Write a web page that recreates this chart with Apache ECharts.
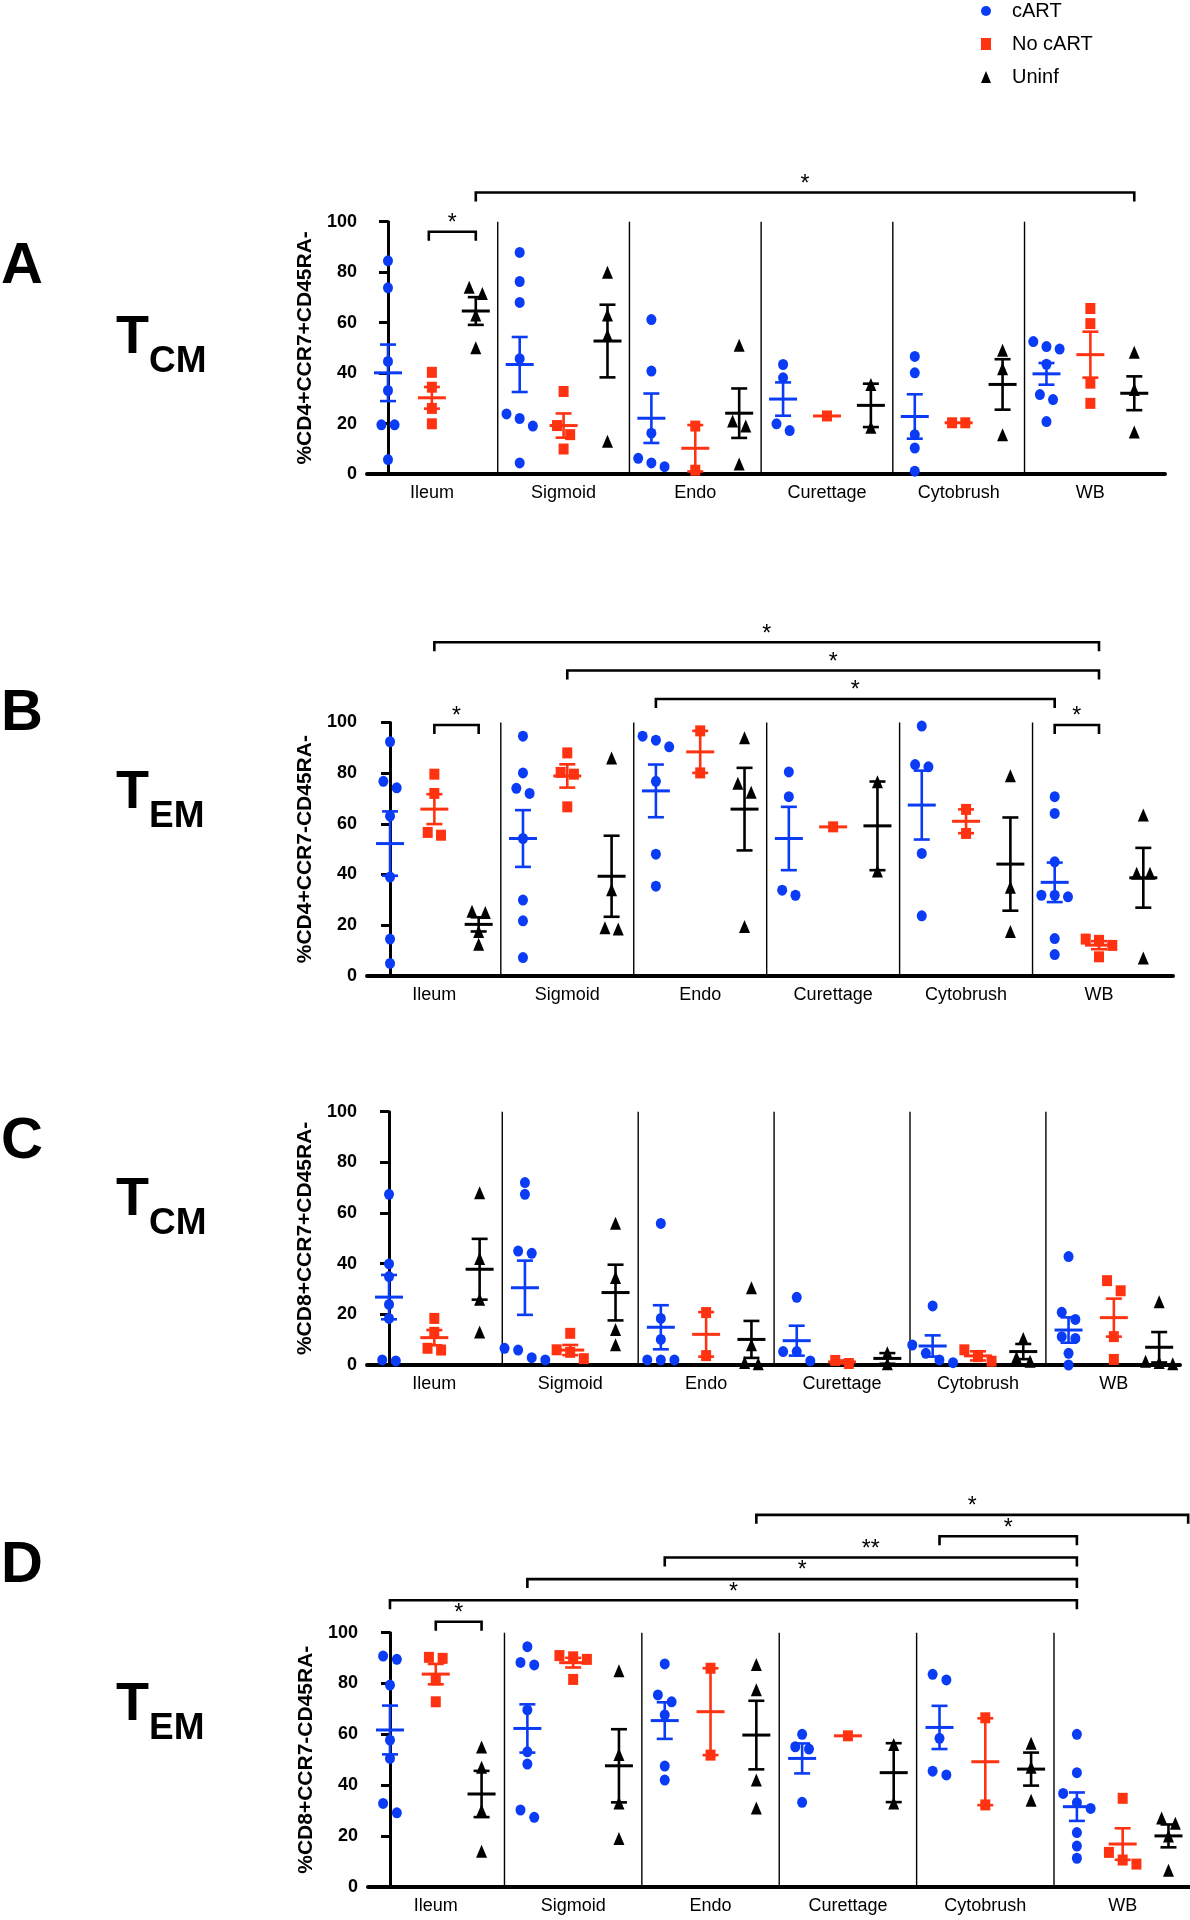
<!DOCTYPE html>
<html><head><meta charset="utf-8">
<script src="https://cdn.jsdelivr.net/npm/echarts@6/dist/echarts.min.js"></script>
<style>html,body{margin:0;padding:0;background:#fff}#chart{width:1190px;height:1920px}</style>
</head><body><div id="chart"></div>
<script>
// ---------- data ----------
const categories = ['Ileum', 'Sigmoid', 'Endo', 'Curettage', 'Cytobrush', 'WB'];
const groupNames = ['cART', 'No cART', 'Uninf'];
const yTickValues = [0, 20, 40, 60, 80, 100];

const A_cART = [[84.5,73.8,44.6,33.1,19.5,19.5,5.7],[87.8,76.3,68.0,45.7,23.8,22.0,19.0,4.4],[61.2,40.8,16.2,6.2,4.4,2.9],[43.4,38.1,19.9,17.2],[46.6,40.1,15.6,10.3,1.1],[52.5,50.5,49.5,43.5,31.5,29.5,20.8]];
const A_cART_mean = [40.1,43.4,22.1,29.7,22.8,39.7];
const A_cART_sem = [11.2,10.9,9.8,6.6,8.8,4.3];
const A_noCART = [[40.3,34.4,26.0,19.9],[32.7,19.2,15.6,9.9],[19.0,1.5],[23.0],[20.3,20.3],[65.6,59.6,36.0,28.0]];
const A_noCART_mean = [30.2,19.2,10.2,23.0,20.3,47.3];
const A_noCART_sem = [4.3,4.8,9.2,0,0,9.1];
const A_uninf = [[74.0,71.5,63.0,50.0],[80.0,63.0,55.0,13.0],[51.0,21.0,19.0,4.0],[35.5,18.5],[49.0,41.7,15.6],[48.3,33.5,16.6]];
const A_uninf_mean = [64.6,52.7,24.1,27.2,35.5,32.0];
const A_uninf_sem = [5.5,14.4,9.8,8.6,10.0,6.7];
const A_brackets = [[0.93,2,96,'*'],[2,17,111.6,'*']];

const B_cART = [[92.4,76.8,74.2,63.0,39.0,14.5,4.9],[94.6,80.1,74.0,72.0,54.2,29.9,21.7,7.2],[94.6,93.0,90.4,76.8,48.0,35.4],[80.5,70.7,33.8,31.8],[98.6,83.4,82.5,48.3,23.7],[70.7,64.1,45.0,31.8,31.8,31.2,14.7,8.4]];
const B_cART_mean = [52.2,54.2,73.0,54.2,67.4,36.9];
const B_cART_sem = [12.7,11.2,10.4,12.5,13.6,7.8];
const B_noCART = [[79.6,72.0,56.6,55.5],[88.0,80.3,79.6,66.7],[96.7,80.1],[58.8],[65.7,56.2],[14.5,14.0,12.0,7.5]];
const B_noCART_mean = [65.8,78.9,88.4,58.8,61.0,12.1];
const B_noCART_sem = [5.9,4.6,8.3,0,4.7,1.6];
const B_uninf = [[25.5,25.0,17.5,12.5],[86.0,34.0,18.5,19.0],[94.0,76.0,72.5,19.5],[76.6,41.4],[79.0,35.0,17.5],[63.5,40.5,40.5,7.0]];
const B_uninf_mean = [20.3,39.3,65.8,59.2,44.1,38.7];
const B_uninf_sem = [2.8,16.0,16.3,17.5,18.4,11.8];
const B_brackets = [[1,16,131.7,'*'],[4,16,120.5,'*'],[6,15,109.3,'*'],[1,2,99,'*'],[15,16,99,'*']];

const C_cART = [[67.4,39.9,34.9,23.9,18.4,2.0,1.6],[72.0,67.4,45.0,44.1,6.6,5.9,2.9,2.0],[55.9,18.4,10.1,2.0,2.0,2.0],[26.7,5.3,5.3,1.6],[23.3,7.9,4.6,2.0,0.9],[42.8,20.8,18.0,11.2,10.5,4.6,0.0]];
const C_cART_mean = [26.8,30.5,14.9,9.6,7.5,13.8];
const C_cART_sem = [8.75,10.7,8.7,5.9,4.2,5.0];
const C_noCART = [[18.4,12.9,6.6,5.9],[12.5,6.0,5.0,2.5],[20.7,3.7],[1.8,0.6],[6.0,3.3,1.5],[33.3,29.3,11.2,2.2]];
const C_noCART_mean = [10.8,5.9,12.1,1.2,3.6,18.7];
const C_noCART_sem = [3.0,2.0,8.8,0.6,1.8,7.5];
const C_uninf = [[68.0,42.0,26.0,13.0],[56.0,34.5,14.0,8.0],[30.5,8.0,1.0,0.5],[4.8,0.5],[10.5,3.0,1.5],[25.0,1.5,1.0,0.5]];
const C_uninf_mean = [37.8,28.6,10.1,2.6,5.3,7.0];
const C_uninf_sem = [12.0,11.0,7.3,2.1,3.0,6.0];
const C_brackets = [];

const D_cART = [[90.8,89.5,79.4,57.7,50.5,32.8,29.1],[94.5,88.3,87.3,69.6,53.1,48.3,30.2,27.3],[87.7,75.5,72.8,67.6,47.5,42.0],[60.0,55.1,54.2,33.2],[83.6,81.4,58.4,45.5,44.0],[60.0,44.9,36.7,33.1,30.8,21.3,16.0,11.2]];
const D_cART_mean = [61.7,62.3,65.4,50.5,62.7,31.5];
const D_cART_sem = [9.6,9.5,7.2,5.9,8.5,5.6];
const D_noCART = [[90.3,89.9,81.4,72.8],[91.0,90.5,89.5,81.6],[86.0,51.8],[59.4],[66.5,32.2],[34.8,13.5,10.5,8.9]];
const D_noCART_mean = [83.7,88.2,68.9,59.4,49.2,16.8];
const D_noCART_sem = [4.0,1.9,17.1,0,17.1,6.2];
const D_uninf = [[55.0,47.0,30.0,14.0],[85.0,52.0,33.0,19.0],[87.5,77.5,42.0,31.0],[56.0,33.0],[56.5,47.0,34.0],[27.0,25.0,20.0,6.5]];
const D_uninf_mean = [36.5,47.6,59.7,44.9,46.3,20.0];
const D_uninf_sem = [9.1,14.4,13.5,11.6,6.5,4.5];
const D_brackets = [[1,2,104.3,'*'],[0,15,112.8,'*'],[3,15,121.1,'*'],[6,15,129.6,'**'],[12,15,138,'*'],[8,17.43,146.4,'*']];

const yTitles = ['%CD4+CCR7+CD45RA-', '%CD4+CCR7-CD45RA-', '%CD8+CCR7+CD45RA-', '%CD8+CCR7-CD45RA-'];
const panelLetters = ['A', 'B', 'C', 'D'];
const subsetSubs = ['CM', 'EM', 'CM', 'EM'];

// ---------- layout / style ----------
const SANS = '"Liberation Sans", Arial, sans-serif';
const COLORS = ['#0a3cf5', '#ff3311', '#000000'];
const SYMBOLS = ['circle', 'rect', 'triangle'];
const SYMBOL_SIZES = [[10, 11], [10, 11], [11, 13]];

const panels = [
  {pts: [A_cART, A_noCART, A_uninf], means: [A_cART_mean, A_noCART_mean, A_uninf_mean], sems: [A_cART_sem, A_noCART_sem, A_uninf_sem], brackets: A_brackets,
   grid: {left: 367, top: 221.7, width: 798, height: 252.3}, xMin: -0.478, xMax: 17.7, nameGap: 47, letterY: 267, tY: 338},
  {pts: [B_cART, B_noCART, B_uninf], means: [B_cART_mean, B_noCART_mean, B_uninf_mean], sems: [B_cART_sem, B_noCART_sem, B_uninf_sem], brackets: B_brackets,
   grid: {left: 367, top: 722.5, width: 806, height: 253.3}, xMin: -0.52, xMax: 17.67, nameGap: 45, letterY: 714, tY: 793},
  {pts: [C_cART, C_noCART, C_uninf], means: [C_cART_mean, C_noCART_mean, C_uninf_mean], sems: [C_cART_sem, C_noCART_sem, C_uninf_sem], brackets: C_brackets,
   grid: {left: 367, top: 1111.7, width: 813, height: 253.3}, xMin: -0.486, xMax: 17.46, nameGap: 50, letterY: 1142, tY: 1200},
  {pts: [D_cART, D_noCART, D_uninf], means: [D_cART_mean, D_noCART_mean, D_uninf_mean], sems: [D_cART_sem, D_noCART_sem, D_uninf_sem], brackets: D_brackets,
   grid: {left: 368, top: 1632.7, width: 822, height: 254}, xMin: -0.48, xMax: 17.47, nameGap: 41, letterY: 1566, tY: 1705}
];

const NG = groupNames.length;
const labelPositions = categories.map((_, i) => i * NG + 1);
const dividerPositions = categories.slice(1).map((_, i) => (i + 1) * NG - 0.5);

// spread overlapping points sideways (like GraphPad scatter)
function spreadOffsets(values) {
  const THR = 4.2, STEP = 0.3;
  const idx = values.map((v, i) => ({v, i})).sort((a, b) => b.v - a.v);
  const offs = new Array(values.length).fill(0);
  let cluster = [];
  const flush = () => {
    const n = cluster.length;
    cluster.forEach((it, j) => { offs[it.i] = (j - (n - 1) / 2) * STEP; });
    cluster = [];
  };
  idx.forEach(it => {
    if (cluster.length && cluster[cluster.length - 1].v - it.v >= THR) flush();
    cluster.push(it);
  });
  flush();
  return offs;
}

function meanSemItem(params, api) {
  const x = api.value(0), m = api.value(1), s = api.value(2);
  const c = api.coord([x, m]);
  const color = api.visual('color');
  const ch = [{type: 'line', shape: {x1: c[0] - 14, y1: c[1], x2: c[0] + 14, y2: c[1]}, style: {stroke: color, lineWidth: 3}}];
  if (s > 0) {
    const t = api.coord([x, m + s]), b = api.coord([x, m - s]);
    ch.push({type: 'line', shape: {x1: c[0], y1: t[1], x2: c[0], y2: b[1]}, style: {stroke: color, lineWidth: 2.6}});
    ch.push({type: 'line', shape: {x1: c[0] - 8, y1: t[1], x2: c[0] + 8, y2: t[1]}, style: {stroke: color, lineWidth: 2.6}});
    ch.push({type: 'line', shape: {x1: c[0] - 8, y1: b[1], x2: c[0] + 8, y2: b[1]}, style: {stroke: color, lineWidth: 2.6}});
  }
  return {type: 'group', children: ch};
}

function dividerItem(params, api) {
  const x = api.value(0);
  const p0 = api.coord([x, 0]), p1 = api.coord([x, 100]);
  return {type: 'line', shape: {x1: p0[0], y1: p0[1], x2: p1[0], y2: p1[1]}, style: {stroke: '#000', lineWidth: 1.4}};
}

function makeBracketItem(brs) {
  return function (params, api) {
    const x1 = api.value(0), y = api.value(1), x2 = api.value(2);
    const a = api.coord([x1, y]), b = api.coord([x2, y]);
    const drop = 9;
    return {type: 'group', children: [
      {type: 'polyline', shape: {points: [[a[0], a[1] + drop], [a[0], a[1]], [b[0], b[1]], [b[0], b[1] + drop]]},
       style: {stroke: '#000', lineWidth: 2.6, fill: null}},
      {type: 'text', x: (a[0] + b[0]) / 2, y: a[1] - 8,
       style: {text: brs[params.dataIndex][3], font: '23px ' + SANS, fill: '#000', align: 'center', verticalAlign: 'middle'}}
    ]};
  };
}

const grids = [], xAxes = [], yAxes = [], series = [], graphics = [];

panels.forEach((P, p) => {
  grids.push(Object.assign({containLabel: false}, P.grid));
  xAxes.push({
    gridIndex: p, type: 'value', min: P.xMin, max: P.xMax,
    axisLine: {show: true, onZero: false, lineStyle: {color: '#000', width: 4}},
    axisTick: {show: false}, splitLine: {show: false},
    axisLabel: {customValues: labelPositions, formatter: v => categories[Math.round((v - 1) / NG)],
      fontFamily: SANS, fontSize: 18, color: '#000', margin: 10}
  });
  yAxes.push({
    gridIndex: p, type: 'value', min: 0, max: 100, interval: 20,
    name: yTitles[p], nameLocation: 'middle', nameGap: P.nameGap,
    nameTextStyle: {fontFamily: SANS, fontWeight: 'bold', fontSize: 21, color: '#000'},
    axisLine: {show: true, lineStyle: {color: '#000', width: 3}},
    axisTick: {show: true, length: 9, lineStyle: {color: '#000', width: 3}},
    axisLabel: {customValues: yTickValues, fontFamily: SANS, fontWeight: 'bold', fontSize: 18, color: '#000', margin: 10},
    splitLine: {show: false}
  });
  series.push({
    type: 'custom', xAxisIndex: p, yAxisIndex: p, silent: true, z: 1, clip: false,
    renderItem: dividerItem, data: dividerPositions.map(x => [x, 0]), encode: {x: 0, y: 1}
  });
  for (let g = 0; g < NG; g++) {
    const data = [];
    P.pts[g].forEach((vals, c) => {
      const offs = spreadOffsets(vals);
      vals.forEach((v, k) => data.push([c * NG + g + offs[k], v]));
    });
    series.push({
      type: 'scatter', name: groupNames[g], xAxisIndex: p, yAxisIndex: p, z: 2, silent: true,
      symbol: SYMBOLS[g], symbolSize: SYMBOL_SIZES[g], itemStyle: {color: COLORS[g], opacity: 1}, data
    });
    series.push({
      type: 'custom', name: 'meanSEM', xAxisIndex: p, yAxisIndex: p, z: 3, silent: true, clip: false,
      itemStyle: {color: COLORS[g]}, renderItem: meanSemItem,
      data: P.means[g].map((m, c) => [c * NG + g, m, P.sems[g][c]]), encode: {x: 0, y: 1}
    });
  }
  if (P.brackets.length) {
    series.push({
      type: 'custom', name: 'sig', xAxisIndex: p, yAxisIndex: p, z: 4, silent: true, clip: false,
      renderItem: makeBracketItem(P.brackets),
      data: P.brackets.map(b => [b[0], b[2], b[1]]), encode: {x: [0, 2], y: 1}
    });
  }
  graphics.push({type: 'text', x: 1, y: P.letterY, style: {text: panelLetters[p], font: 'bold 58px ' + SANS, fill: '#000', verticalAlign: 'middle'}});
  graphics.push({type: 'text', x: 116, y: P.tY, style: {text: 'T', font: 'bold 54px ' + SANS, fill: '#000', verticalAlign: 'middle'}});
  graphics.push({type: 'text', x: 149, y: P.tY + 24, style: {text: subsetSubs[p], font: 'bold 37px ' + SANS, fill: '#000', verticalAlign: 'middle'}});
});

const chart = echarts.init(document.getElementById('chart'), null, {renderer: 'canvas'});
chart.setOption({
  animation: false,
  backgroundColor: '#fff',
  grid: grids, xAxis: xAxes, yAxis: yAxes, series,
  legend: {
    data: groupNames, orient: 'vertical', left: 976, top: -4, itemWidth: 10, itemHeight: 12, itemGap: 13,
    selectedMode: false, formatter: '{t|{name}}',
    textStyle: {rich: {t: {fontFamily: SANS, fontSize: 20, color: '#000', padding: [0, 0, 0, 16]}}}
  },
  graphic: {elements: graphics}
});
</script></body></html>
